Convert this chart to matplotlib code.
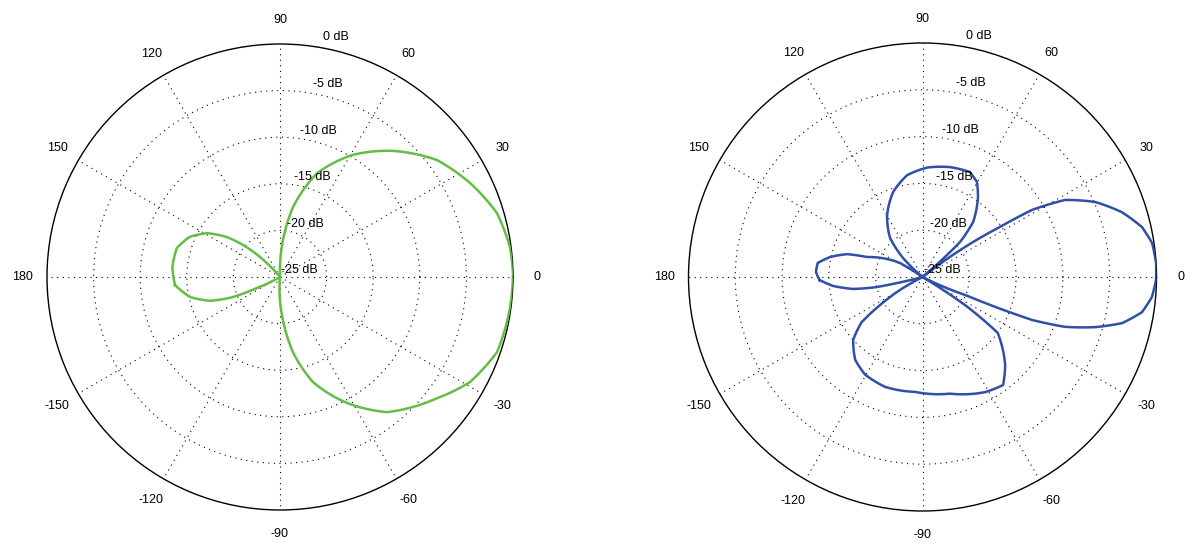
#!/usr/bin/env python
# Two polar gain patterns in dB, -25 dB at the centre, 0 dB at the rim
import numpy as np
import matplotlib
matplotlib.use('Agg')
import matplotlib.pyplot as plt

#%% Values (angle in degrees, gain in dB)
left_deg = [-175.6, -167.5, -161.1, -156.9, -154.4, -150, -95, -87.0, -80.2, -72.6,
            -62.0, -51.6, -37.6, -28.9, -19.1, -7.7, 1, 7.4, 16.4, 26.3,
            36.7, 48.4, 59.4, 70.4, 79.5, 85.4, 90, 93, 130, 135,
            139.1, 143.0, 148.9, 156.0, 164.3, 174.7]
left_db = [-13.7, -15.1, -17.1, -19.5, -22.3, -25, -25, -20.9, -16.8, -13.2,
           -9.7, -6.5, -3.7, -1.7, -0.36, -0.1, 0, -0.12, -0.73, -2.25,
           -4.0, -6.9, -9.8, -13.2, -17.4, -21.0, -23.9, -25, -25, -21.96,
           -19.75, -17.9, -15.9, -14.4, -13.5, -13.4]

right_deg = [-178.3, -174.3, -170.2, -167.6, -166.5, -165, -153, -150, -146.6, -143.4,
             -137.8, -129.1, -120.4, -108.8, -93.7, -76.8, -61.5, -53.3, -46.8, -36.6,
             -33.4, -31, -27, -25.6, -22.9, -22.3, -21.4, -19.3, -16.2, -13.0,
             -9.1, -5.0, -0.7, 3.4, 8.4, 12.8, 18.0, 23.5, 28.4, 31.5,
             33.0, 35.2, 37, 38, 40, 43.0, 47.4, 54.9, 60.2, 65.7,
             76.0, 87.6, 98.6, 109.1, 119.8, 129.8, 135.7, 140, 145, 148.1,
             160.2, 163.1, 167.8, 172.4, 177.3]
right_db = [-14.0, -15.4, -17.5, -20.0, -22.5, -25, -25, -22.2, -19.6, -16.9,
            -15.0, -13.6, -12.9, -12.6, -12.7, -12.2, -11.0, -10.6, -12.1, -15.0,
            -19.6, -25, -25, -23.5, -20.1, -16.3, -12.4, -8.9, -5.8, -3.1,
            -1.25, -0.4, -0.05, 0, -0.2, -0.95, -2.6, -4.9, -7.7, -11.3,
            -15.4, -19.4, -23, -25, -25, -19.5, -17.0, -14.7, -13.3, -12.7,
            -12.9, -13.3, -14.0, -15.4, -17.4, -19.6, -22.1, -25, -25, -22.2,
            -18.7, -16.6, -14.9, -13.7, -13.6]

ang_ticks = [0, 30, 60, 90, 120, 150, 180, -150, -120, -90, -60, -30]
db_rings = [-25, -20, -15, -10, -5, 0]

plt.rcParams['font.family'] = ['Liberation Sans', 'DejaVu Sans']
plt.rcParams['font.size'] = 9

fig = plt.figure(figsize=(12.01, 5.59), dpi=100)

def polar_panel(rect, deg, db, color):
    ax = fig.add_axes(rect, projection='polar')
    th = np.deg2rad(np.r_[deg, deg[0] + 360])
    rr = np.r_[db, db[0]]
    line, = ax.plot(th, rr, color=color, lw=1.8, zorder=3,
                    solid_joinstyle='round')
    # let the polar transform draw each segment as a curve in (theta, r)
    line.get_path()._interpolation_steps = 40
    ax.set_rlim(-25, 0)
    ax.set_yticks(db_rings[1:-1])
    ax.set_yticklabels([])
    ax.set_xticks(np.deg2rad(np.arange(0, 360, 30)))
    ax.set_xticklabels([])
    ax.tick_params(length=0)
    ax.grid(True, color='black', lw=0.8, linestyle=(0, (1, 4)))
    ax.spines['polar'].set_color('black')
    ax.spines['polar'].set_linewidth(1.0)
    # angle labels just outside the rim
    for a in ang_ticks:
        ax.text(np.deg2rad(a), 2.6, str(a), ha='center', va='center', clip_on=False)
    # ring labels stacked up the 90 degree spoke
    for k, d in enumerate(db_rings):
        ax.text(0.5 + (38 + 6.2 * k) / 466., 0.5 + (46.6 * k + 3.5) / 466.,
                '%d dB' % d, transform=ax.transAxes, ha='right', va='baseline')
    return ax

polar_panel([0.03913, 0.08766, 0.38801, 0.83363], left_deg, left_db, '#63be45')
polar_panel([0.57327, 0.08587, 0.38968, 0.83721], right_deg, right_db, '#3050a8')

plt.savefig('out.png', dpi=100)
